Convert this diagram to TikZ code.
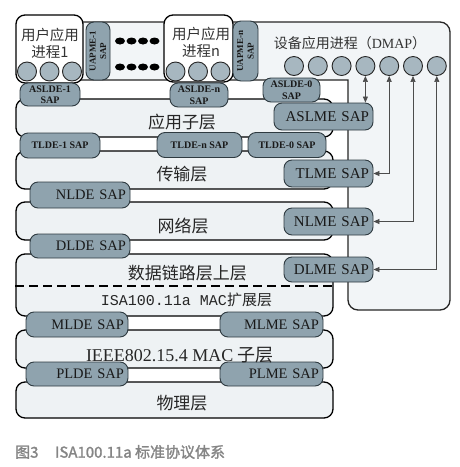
\documentclass[tikz,border=0pt]{standalone}
\usepackage{fontspec}
\setmainfont{Liberation Serif}
\setmonofont{Liberation Mono}
\newfontfamily\cjk{Noto Sans CJK SC}
\newfontfamily\capfont[FakeBold=1.5]{Noto Sans CJK SC}
\usetikzlibrary{arrows.meta}
\definecolor{sapfill}{HTML}{8FA3AE}
\definecolor{sapline}{HTML}{2E3A40}
\definecolor{layerfill}{HTML}{EEF2F4}
\definecolor{dmapfill}{HTML}{F2F5F7}
\definecolor{portfill}{HTML}{A7B7C0}
\definecolor{capgray}{HTML}{858585}
\begin{document}
\begin{tikzpicture}[x=1pt,y=-1pt,
  sap/.style={draw=sapline, fill=sapfill, line width=0.9pt, rounded corners=8pt, inner ysep=0pt, inner xsep=4pt, text=black!90},
  sbig/.style={sap, font=\fontsize{14.5}{16}\selectfont, align=right},
  ssmall/.style={sap, font=\bfseries\fontsize{10}{11.5}\selectfont, align=center, inner xsep=0pt},
  layer/.style={draw=black, fill=layerfill, line width=1.3pt, rounded corners=9pt, inner sep=0pt, minimum width=317pt},
  proc/.style={draw=black, fill=white, line width=1.3pt, rounded corners=9pt, inner sep=0pt},
  port/.style={circle, draw=black!85, fill=portfill, line width=0.9pt, minimum size=19pt, inner sep=0pt},
  conn/.style={draw=black!70, line width=0.7pt, {Triangle[length=6pt,width=5pt]}-{Triangle[length=6pt,width=5pt]}},
  lbl/.style={font=\cjk\fontsize{17}{19}\selectfont, text=black!85, inner sep=0pt},
  ptext/.style={font=\cjk\fontsize{14.5}{17}\selectfont, text=black!80, align=center, inner sep=0pt}
]
\useasboundingbox (0,0) rectangle (460,467);
\fill[white] (0,0) rectangle (460,467);

% DMAP L-shaped region (sharp inner corner)
\fill[dmapfill, rounded corners=10pt]
  (348,80) -- (30,80) -- (30,22) -- (450,22) -- (450,310) -- (348,310) -- (348,80);
\draw[draw=black!85, line width=1.3pt, rounded corners=10pt, line cap=rect]
  (348,80) -- (30,80) -- (30,22) -- (450,22) -- (450,310) -- (348,310) -- (348,80);

% layers
\node[layer, minimum height=38pt] (app) at (174.5,118) {};
\node[layer, minimum height=38pt] (trans) at (174.5,170) {};
\node[layer, minimum height=38pt] (net) at (174.5,221) {};
\node[layer, minimum height=62pt] (dl) at (174.5,285) {};
\node[layer, minimum height=38pt] (mac) at (174.5,349) {};
\node[layer, minimum height=36pt] (phy) at (174.5,400) {};
\draw[line width=2pt, dash pattern=on 9pt off 5pt] (dl.west |- 0,286) -- (dl.east |- 0,286);

% user processes
\node[proc, minimum width=67pt, minimum height=68pt] (up1) at (49.5,49) {};
\node[proc, minimum width=69pt, minimum height=67pt] (upn) at (198.5,48.5) {};
\node[ptext] (up1t) at (50,43.5) {用户应用\\进程1};
\node[ptext] (upnt) at (201,42.5) {用户应用\\进程n};
\node[port] (u11) at (27,71.5) {};
\node[port] (u12) at (49.5,71.5) {};
\node[port] (u13) at (72,71.5) {};
\node[port] (un1) at (175.5,71.5) {};
\node[port] (un2) at (198,71.5) {};
\node[port] (un3) at (220.5,71.5) {};

% UAPME SAPs
\node[ssmall, rotate=90, minimum width=58pt, minimum height=24pt, font=\bfseries\fontsize{9}{10.5}\selectfont] (uap1) at (98,51) {UAPME-1\\SAP};
\node[ssmall, rotate=90, minimum width=60pt, minimum height=25pt, font=\bfseries\fontsize{9}{10.5}\selectfont] (uapn) at (245.5,51) {UAPME-n\\SAP};

% dots
\foreach \dx in {120,131.5,143,154.5}{
  \fill[black] (\dx,41) ellipse (5pt and 3.5pt);
  \fill[black] (\dx,67) ellipse (5pt and 3.5pt);
}

% DMAP text and ports
\node[font=\fontsize{14}{16}\selectfont, text=black!80, inner sep=0pt] (dmapt) at (350,43) {{\cjk 设备应用进程（}DMAP{\cjk ）}};
\foreach \k in {1,...,7}{
  \node[port] (d\k) at ({294+23.8*(\k-1)},66) {};
}

% SAP ovals
\node[ssmall, minimum width=60pt, minimum height=23pt] (asl1) at (50,94.5) {ASLDE-1\\SAP};
\node[ssmall, minimum width=58pt, minimum height=24pt] (asln) at (199,95) {ASLDE-n\\SAP};
\node[ssmall, minimum width=57pt, minimum height=24pt] (asl0) at (291.5,90) {ASLDE-0\\SAP};
\node[sbig, font=\fontsize{15}{16}\selectfont, text width=91pt, inner xsep=4pt, minimum height=27pt] (aslme) at (323.5,116.5) {ASLME SAP};

\node[ssmall, minimum width=80pt, minimum height=25pt] (tl1) at (60,145.5) {TLDE-1 SAP};
\node[ssmall, minimum width=85pt, minimum height=25pt] (tln) at (199.5,145) {TLDE-n SAP};
\node[ssmall, minimum width=78pt, minimum height=25pt] (tl0) at (287,145) {TLDE-0 SAP};
\node[sbig, font=\fontsize{15}{16}\selectfont, text width=81pt, minimum height=27pt] (tlme) at (328.5,173.5) {TLME SAP};

\node[sbig, text width=92pt, minimum height=26pt] (nlde) at (80,195) {NLDE SAP};
\node[sbig, font=\fontsize{15}{16}\selectfont, text width=81pt, minimum height=27pt] (nlme) at (328.5,221.5) {NLME SAP};

\node[sbig, text width=92pt, minimum height=24pt] (dlde) at (80,246) {DLDE SAP};
\node[sbig, font=\fontsize{15}{16}\selectfont, text width=81pt, minimum height=25pt] (dlme) at (328.5,269.5) {DLME SAP};

\node[sbig, text width=94pt, minimum height=25pt] (mlde) at (77,324.5) {MLDE SAP};
\node[sbig, text width=95pt, minimum height=25pt] (mlme) at (271.5,324.5) {MLME SAP};
\node[sbig, text width=94pt, minimum height=24pt] (plde) at (77,374) {PLDE SAP};
\node[sbig, text width=95pt, minimum height=24pt] (plme) at (271.5,374) {PLME SAP};

% connectors
\draw[conn] (d4.south) -- (d4.south |- aslme.north);
\draw[conn] (d5.south) |- (tlme.east);
\draw[conn] (d6.south) |- (nlme.east);
\draw[conn] (d7.south) |- (dlme.east);

% layer labels
\node[lbl] (appl) at (182,122) {应用子层};
\node[lbl] (transl) at (182,174) {传输层};
\node[lbl] (netl) at (183,226) {网络层};
\node[lbl] (dlul) at (187.5,273) {数据链路层上层};
\node[inner sep=0pt, text=black!85, font=\fontsize{15}{17}\selectfont] (isal) at (186.5,300) {\ttfamily ISA100.11a MAC{\cjk 扩展层}};
\node[inner sep=0pt, text=black!85, font=\fontsize{18}{20}\selectfont] (macl) at (180,355) {IEEE802.15.4 MAC {\cjk 子层}};
\node[lbl] (phyl) at (182,403) {物理层};

% caption
\node[anchor=west, inner sep=0pt, text=capgray, font=\capfont\fontsize{15}{17}\selectfont] (cap) at (15,452) {图3\hspace{1.1em}ISA100.11a 标准协议体系};
\end{tikzpicture}
\end{document}
